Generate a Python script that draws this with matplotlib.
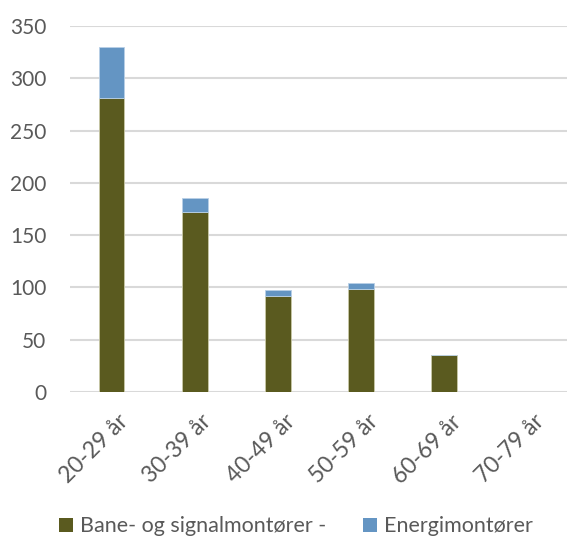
import matplotlib
matplotlib.use("Agg")
import matplotlib.pyplot as plt
from matplotlib.patches import Patch
from matplotlib.transforms import ScaledTranslation

categories = ["20-29 år", "30-39 år", "40-49 år", "50-59 år", "60-69 år", "70-79 år"]
bane_signal = [281, 172, 92, 98, 35, 0]
energi = [49, 13, 5, 6, 0, 0]
series_names = ["Bane- og signalmontører -", "Energimontører"]
y_ticks = [0, 50, 100, 150, 200, 250, 300, 350]

olive = "#5A5A1F"
blue = "#6495C3"
text_col = "#595959"
grid_col = "#D9D9D9"

plt.rcParams["font.family"] = ["Lato", "DejaVu Sans"]

fig = plt.figure(figsize=(5.67, 5.36), dpi=100)
ax = fig.add_axes([0.1235, 0.269, 0.88, 0.6825])

x = range(len(categories))
w = 0.31
ax.bar(x, bane_signal, width=w, color=olive, edgecolor="#C9C9A8", linewidth=0.6, zorder=3)
ax.bar(x, energi, width=w, bottom=bane_signal, color=blue, edgecolor="#B9D0E6", linewidth=0.6, zorder=3)

ax.set_xlim(-0.5, len(categories) - 0.5)
ax.set_ylim(0, 350)
ax.set_yticks(y_ticks)
ax.yaxis.grid(True, color=grid_col, linewidth=1.5, zorder=0)
ax.set_axisbelow(True)
for s in ax.spines.values():
    s.set_visible(False)

ax.tick_params(axis="y", length=0, pad=17, labelsize=15, labelcolor=text_col)
ax.tick_params(axis="x", length=0, pad=8, labelsize=16.5, labelcolor=text_col)
ax.set_xticks(list(x))
ax.set_xticklabels(categories, rotation=45, ha="right", va="top", rotation_mode="anchor")
shift = ScaledTranslation(6 / 100, -8 / 100, fig.dpi_scale_trans)
for lbl in ax.get_xticklabels():
    lbl.set_transform(lbl.get_transform() + shift)

handles = [Patch(facecolor=olive, edgecolor="none"), Patch(facecolor=blue, edgecolor="none")]
fig.legend(handles, series_names, loc="lower left", bbox_to_anchor=(0.07, -0.037), ncol=2,
           frameon=False, fontsize=15.5, labelcolor=text_col, handlelength=0.65, handleheight=0.65,
           handletextpad=0.3, columnspacing=1.75)

fig.savefig("out.png", dpi=100)
